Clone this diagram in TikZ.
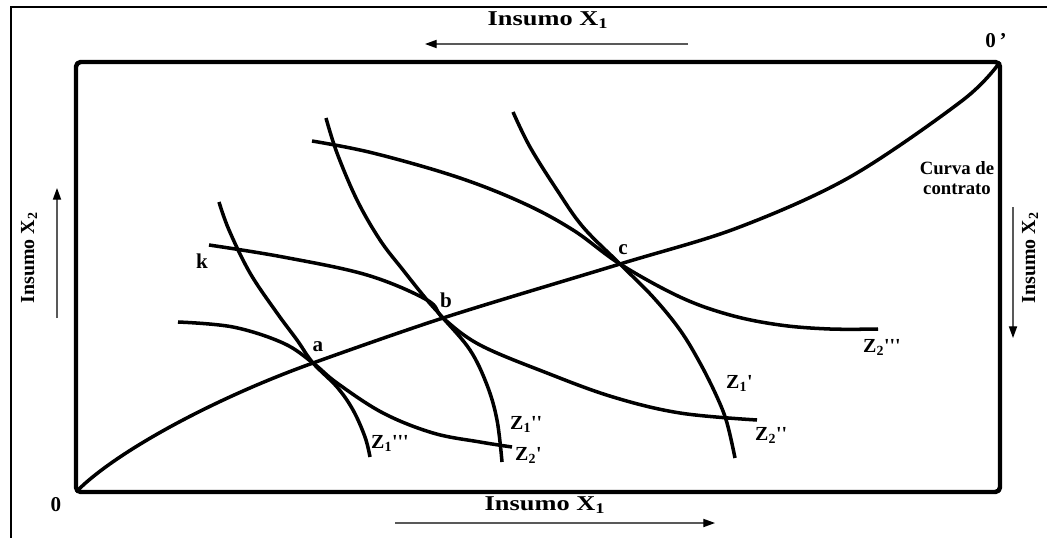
\documentclass[tikz,border=0pt]{standalone}
\usepackage{fontspec}
\setmainfont{Liberation Serif}
\newfontfamily\lblfont{Liberation Serif}
\usetikzlibrary{arrows.meta}

\begin{document}
\begin{tikzpicture}[x=0.03cm,y=-0.03cm,
    box/.style={line width=3.8pt,rounded corners=4pt,line join=round},
    curve/.style={line width=3pt,line join=round},
    axlabel/.style={font=\fontsize{17}{19}\selectfont\bfseries},
    ptlabel/.style={font=\lblfont\fontsize{18}{20}\selectfont\bfseries},
    zlabel/.style={font=\lblfont\fontsize{17}{19}\selectfont\bfseries,anchor=west,inner sep=0pt},
    dirarrow/.style={line width=1.1pt,black!65,-{Triangle[length=10pt,width=7pt,color=black]}}]
    \useasboundingbox (0,0) rectangle (1047,538);

    % Outer frame
    \draw[line width=1.2pt] (11,538) -- (11,7) -- (1047,7);

    % Box (origins 0 and 0')
    \coordinate (O) at (76,492);
    \coordinate (Op) at (1000,62);
    \draw[box] (O) rectangle (Op);
    \node[axlabel,font=\fontsize{18}{20}\selectfont\bfseries] (o1) at (56,505) {0};
    \node[axlabel,font=\fontsize{18}{20}\selectfont\bfseries] (o2) at (996,41) {0\,'};

    % Tangency points
    \coordinate (a) at (313,363);
    \coordinate (b) at (443,318);
    \coordinate (c) at (620,264);

    % Contract curve 0 -> 0'
    \draw[curve] (O) .. controls (115,452) and (215,398) .. (a)
      plot[smooth,tension=0.55] coordinates {(a) (b) (c) (737,228) (850,177) (963,100) (Op)};

    % Isoquants of input 1 (steep)
    \draw[curve] plot[smooth,tension=0.6] coordinates {(219,202) (229,230) (250,273) (277,313) (297,340) (a) (337,387) (353,410) (365,437) (370,457)};
    \draw[curve] plot[smooth,tension=0.6] coordinates {(326,118) (337,153) (357,200) (380,240) (403,270) (427,300) (b) (470,350) (487,385) (497,420) (502,462)};
    \draw[curve] plot[smooth,tension=0.6] coordinates {(513,112) (530,147) (557,190) (583,227) (c) (653,297) (680,330) (700,363) (717,397) (727,423) (735,458)};

    % Isoquants of input 2 (flat)
    \draw[curve] plot[smooth,tension=0.6] coordinates {(178,322) (233,327) (283,343) (a) (337,383) (383,413) (433,433) (480,442) (512,447)};
    \draw[curve] plot[smooth,tension=0.6] coordinates {(209,245) (283,257) (367,275) (427,300) (b) (480,345) (547,373) (613,397) (680,413) (757,420)};
    \draw[curve] plot[smooth,tension=0.6] coordinates {(312,141) (373,153) (457,177) (523,203) (573,230) (c) (680,297) (730,315) (780,325) (830,329) (878,329)};

    % Point labels
    \node[ptlabel] (la) at (318,347) {a};
    \node[ptlabel] (lb) at (446,300) {b};
    \node[ptlabel] (lc) at (623,250) {c};
    \node[ptlabel] (lk) at (202,261) {k};
    \node[ptlabel,align=center,font=\lblfont\fontsize{16}{17}\selectfont\bfseries] (cc) at (957,178) {Curva de\\contrato};

    % Curve labels
    \node[zlabel] (z1c) at (371,443) {Z\textsubscript{1}'''};
    \node[zlabel] (z1b) at (510,424) {Z\textsubscript{1}''};
    \node[zlabel] (z2a) at (515,455) {Z\textsubscript{2}'};
    \node[zlabel] (z1a) at (726,383) {Z\textsubscript{1}'};
    \node[zlabel] (z2b) at (755,435) {Z\textsubscript{2}''};
    \node[zlabel] (z2c) at (863,347) {Z\textsubscript{2}'''};

    % Input axes
    \node[axlabel,xscale=1.25,font=\fontsize{18}{20}\selectfont\bfseries] (x1top) at (548,20) {Insumo X\textsubscript{1}};
    \node[axlabel,xscale=1.25,font=\fontsize{18}{20}\selectfont\bfseries] (x1bot) at (545,505) {Insumo X\textsubscript{1}};
    \node[axlabel,rotate=90] (x2left) at (29,258) {Insumo X\textsubscript{2}};
    \node[axlabel,rotate=90] (x2right) at (1030,258) {Insumo X\textsubscript{2}};

    % Direction arrows
    \coordinate (t1) at (688,44);  \coordinate (t2) at (425,44);
    \coordinate (b1) at (395,523); \coordinate (b2) at (715,523);
    \coordinate (l1) at (57,318);  \coordinate (l2) at (57,188);
    \coordinate (r1) at (1013,207); \coordinate (r2) at (1013,338);
    \draw[dirarrow] (t1) -- (t2);
    \draw[dirarrow] (b1) -- (b2);
    \draw[dirarrow] (l1) -- (l2);
    \draw[dirarrow] (r1) -- (r2);
\end{tikzpicture}
\end{document}
